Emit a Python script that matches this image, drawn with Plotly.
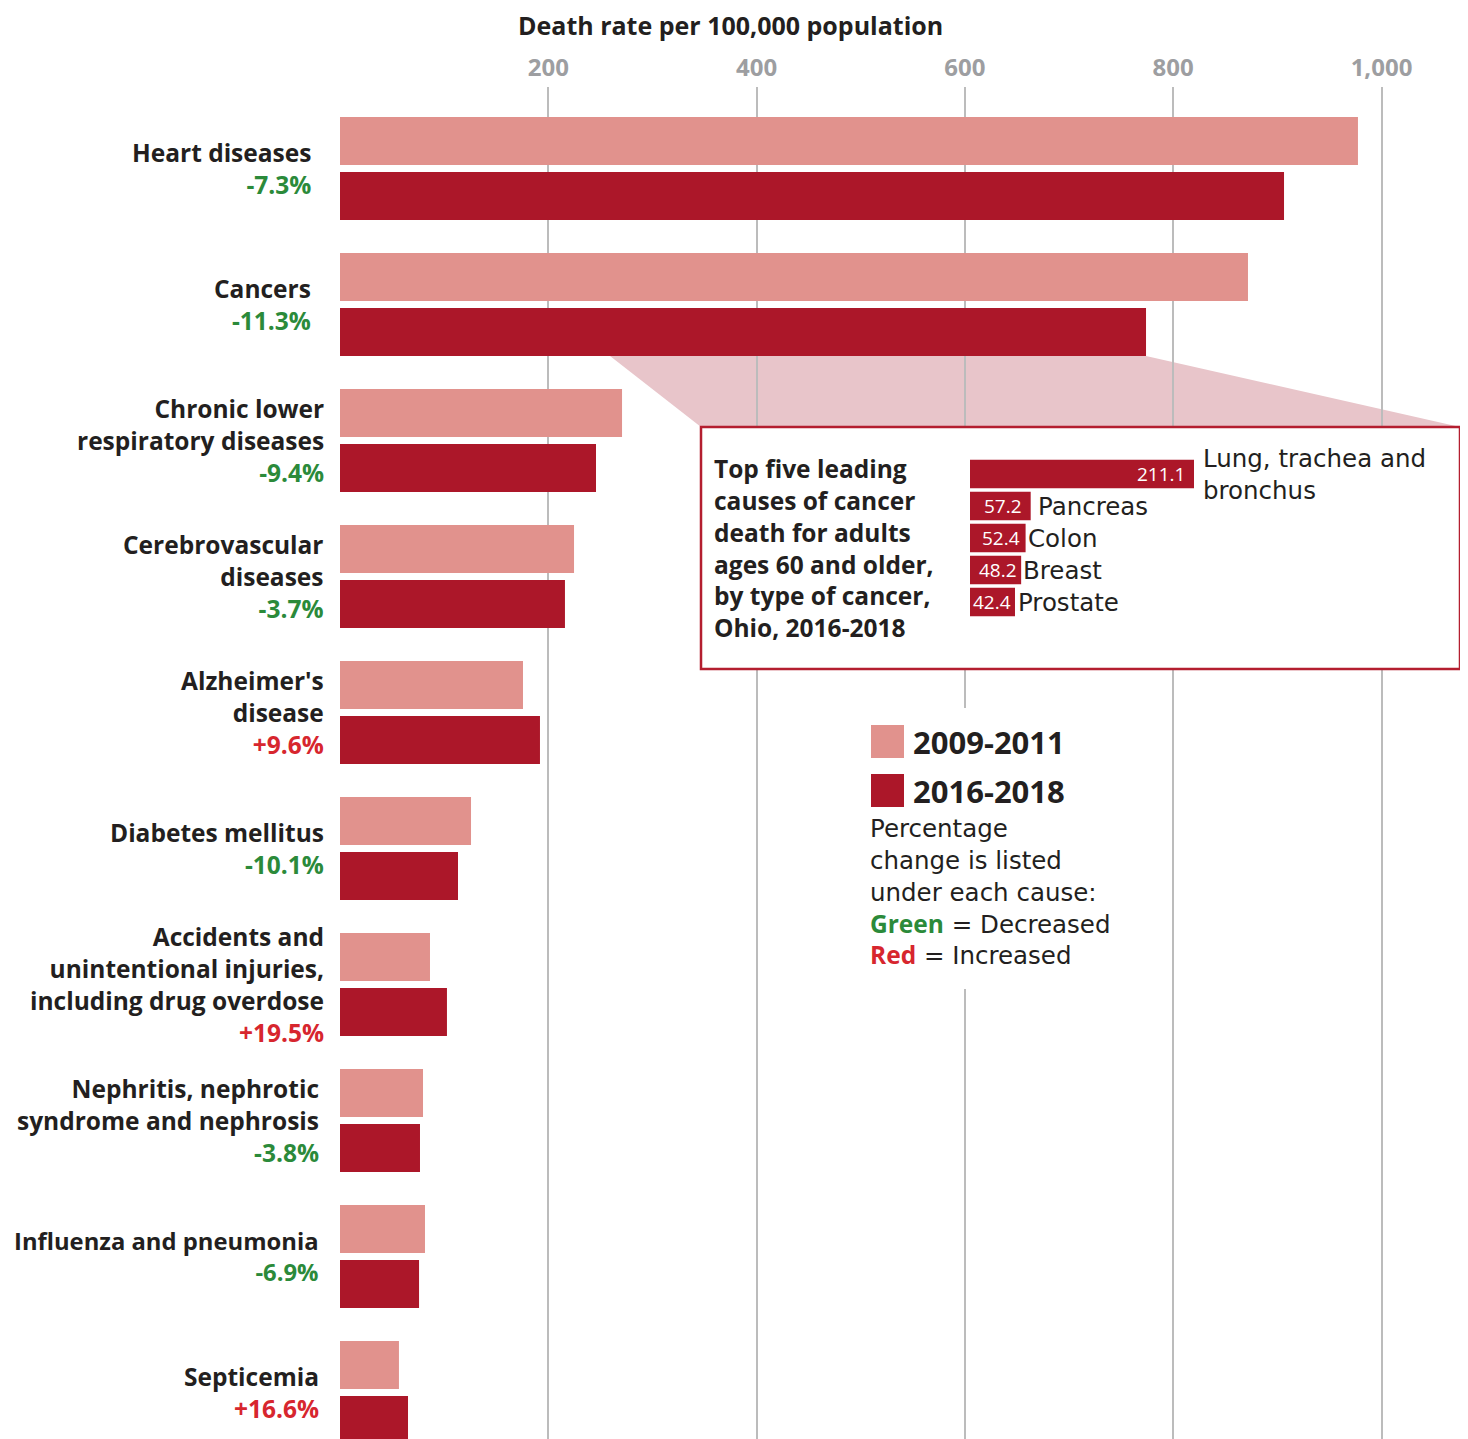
import plotly.graph_objects as go

# ---------------- data ----------------
causes = ["Heart diseases", "Cancers", "Chronic lower respiratory diseases",
          "Cerebrovascular diseases", "Alzheimer's disease", "Diabetes mellitus",
          "Accidents and unintentional injuries, including drug overdose",
          "Nephritis, nephrotic syndrome and nephrosis",
          "Influenza and pneumonia", "Septicemia"]
cause_labels = ["Heart diseases", "Cancers", "Chronic lower<br>respiratory diseases",
                "Cerebrovascular<br>diseases", "Alzheimer's<br>disease", "Diabetes mellitus",
                "Accidents and<br>unintentional injuries,<br>including drug overdose",
                "Nephritis, nephrotic<br>syndrome and nephrosis",
                "Influenza and pneumonia", "Septicemia"]
rate_2009_2011 = [977.4, 871.8, 270.8, 224.7, 175.7, 125.8, 86.4, 79.7, 81.6, 56.6]
rate_2016_2018 = [906.4, 773.9, 245.8, 216.0, 192.0, 113.3, 102.7, 76.8, 75.9, 65.3]
pct_change = ["-7.3%", "-11.3%", "-9.4%", "-3.7%", "+9.6%", "-10.1%",
              "+19.5%", "-3.8%", "-6.9%", "+16.6%"]

cancer_types = ["Lung, trachea and bronchus", "Pancreas", "Colon", "Breast", "Prostate"]
cancer_labels = ["Lung, trachea and<br>bronchus", "Pancreas", "Colon", "Breast", "Prostate"]
cancer_rates = [211.1, 57.2, 52.4, 48.2, 42.4]

tick_vals = [200, 400, 600, 800, 1000]
tick_text = ["200", "400", "600", "800", "1,000"]

# ---------------- style ----------------
LIGHT = "#e1928d"
DARK = "#ac1729"
GREEN = "#2b8a3a"
RED = "#d7262e"
TXT = "#231f20"
BOLD_FONT = "Open Sans"
REG_FONT = "DejaVu Sans"
W, H = 1468, 1439
OFF = 8                      # page offset of the figure inside the browser
PL, PT = 340, 87             # plot area left / top on screen
PR, PB = W + OFF, H + OFF    # plot area right / bottom on screen
SCALE = 1.0415               # screen px per unit on main axis
ROW = 136                    # screen px per category
ROW0 = 168.5                 # screen y of first category centre

label_shift = [-27, -27, -14, -14, -14, -14, -14, -19, -19, -19]
label_size = [24.5, 24.5, 24.5, 24.5, 24.5, 24.5, 24.5, 24.5, 23.8, 24.5]
name_shift = [7, 5, 0, 0, 1]
value_shift = [-7, -7, -4, -2, -2]


def px_x(sx):
    return (sx - PL) / (PR - PL)


def px_y(sy):
    return (PB - sy) / (PB - PT)


def val_x(sx):
    return (sx - PL) / SCALE


def val_y(sy):
    return (sy - ROW0) / ROW


fig = go.Figure()
fig.add_trace(go.Bar(y=causes, x=rate_2009_2011, orientation="h", name="2009-2011",
                     marker=dict(color=LIGHT, line=dict(width=0)), hoverinfo="x+y"))
fig.add_trace(go.Bar(y=causes, x=rate_2016_2018, orientation="h", name="2016-2018",
                     marker=dict(color=DARK, line=dict(width=0)), hoverinfo="x+y"))
fig.add_trace(go.Bar(y=cancer_types, x=cancer_rates, orientation="h", width=0.89,
                     xaxis="x2", yaxis="y2", marker=dict(color=DARK, line=dict(width=0)),
                     hoverinfo="x+y"))

annotations = []
for i, (c, lab, p) in enumerate(zip(causes, cause_labels, pct_change)):
    col = RED if p.startswith("+") else GREEN
    annotations.append(dict(
        xref="paper", yref="y", x=0, y=c, xanchor="right", yanchor="middle",
        xshift=label_shift[i], align="right", showarrow=False,
        text=f"{lab}<br><span style='color:{col}'>{p}</span>",
        font=dict(family=BOLD_FONT, size=label_size[i], color=TXT, weight="bold")))

for i, (c, lab, v) in enumerate(zip(cancer_types, cancer_labels, cancer_rates)):
    annotations.append(dict(
        xref="x2", yref="y2", x=v, y=c, xanchor="left", yanchor="middle",
        xshift=name_shift[i], align="left", showarrow=False, text=lab,
        font=dict(family=REG_FONT, size=24.5, color=TXT)))
    annotations.append(dict(
        xref="x2", yref="y2", x=v, y=c, xanchor="right", yanchor="middle",
        xshift=value_shift[i], showarrow=False, text=f"{v:.1f}",
        font=dict(family=BOLD_FONT, size=19, color="white")))

annotations.append(dict(
    xref="paper", yref="paper", x=px_x(730), y=px_y(25), xanchor="center",
    yanchor="middle", showarrow=False, text="Death rate per 100,000 population",
    font=dict(family=BOLD_FONT, size=25, color=TXT, weight="bold")))

annotations.append(dict(
    xref="paper", yref="paper", x=px_x(712), y=px_y(548), xanchor="left",
    yanchor="middle", align="left", showarrow=False,
    text="Top five leading<br>causes of cancer<br>death for adults<br>ages 60 and older,<br>"
         "by type of cancer,<br>Ohio, 2016-2018",
    font=dict(family=BOLD_FONT, size=24.5, color=TXT, weight="bold")))

annotations.append(dict(
    xref="paper", yref="paper", x=px_x(911), y=px_y(742), xanchor="left",
    yanchor="middle", showarrow=False, text="2009-2011",
    font=dict(family=BOLD_FONT, size=31, color=TXT, weight="bold")))
annotations.append(dict(
    xref="paper", yref="paper", x=px_x(911), y=px_y(791), xanchor="left",
    yanchor="middle", showarrow=False, text="2016-2018",
    font=dict(family=BOLD_FONT, size=31, color=TXT, weight="bold")))
annotations.append(dict(
    xref="paper", yref="paper", x=px_x(868), y=px_y(892), xanchor="left",
    yanchor="middle", align="left", showarrow=False,
    text="Percentage<br>change is listed<br>under each cause:<br>"
         f"<span style='color:{GREEN};font-family:{BOLD_FONT};font-weight:bold'>Green</span> = Decreased<br>"
         f"<span style='color:{RED};font-family:{BOLD_FONT};font-weight:bold'>Red</span> = Increased",
    font=dict(family=REG_FONT, size=24.5, color=TXT)))

# geometry of the Cancers dark bar bottom (category index 1)
slot = 55 / ROW
cancer_bottom = 1 + slot / 2 + (48 / ROW) / 2
box_x0, box_x1 = val_x(701), val_x(1460)
box_y0, box_y1 = val_y(427), val_y(669)

shapes = [
    dict(type="path", xref="x", yref="y", layer="below",
         path=(f"M {val_x(610)},{cancer_bottom} L {rate_2016_2018[1]},{cancer_bottom} "
               f"L {box_x1},{box_y0} L {box_x0},{box_y0} Z"),
         fillcolor="#e8c5ca", line=dict(width=0)),
    dict(type="rect", xref="x", yref="y", layer="between",
         x0=box_x0, x1=box_x1, y0=box_y0, y1=box_y1,
         fillcolor="white", line=dict(color="#b41e2f", width=2.5)),
    dict(type="rect", xref="x", yref="y", layer="between",
         x0=val_x(860), x1=val_x(1140), y0=val_y(708), y1=val_y(989),
         fillcolor="white", line=dict(width=0)),
    dict(type="rect", xref="paper", yref="paper", layer="above",
         x0=px_x(871), x1=px_x(904), y0=px_y(758), y1=px_y(725),
         fillcolor=LIGHT, line=dict(width=0)),
    dict(type="rect", xref="paper", yref="paper", layer="above",
         x0=px_x(871), x1=px_x(904), y0=px_y(807), y1=px_y(774),
         fillcolor=DARK, line=dict(width=0)),
]

fig.update_layout(
    width=W, height=H,
    margin=dict(l=PL - OFF, r=0, t=PT - OFF, b=0, pad=0),
    paper_bgcolor="white", plot_bgcolor="rgba(0,0,0,0)",
    showlegend=False,
    barmode="group", bargap=0.191, bargroupgap=0.127,
    font=dict(family=BOLD_FONT, color=TXT),
    xaxis=dict(range=[0, val_x(PR)], side="top", tickvals=tick_vals,
               ticktext=tick_text, showgrid=True, gridcolor="#bcbcbc", gridwidth=1.5,
               zeroline=False, showline=False, ticks="", ticklabelstandoff=5,
               tickfont=dict(family=BOLD_FONT, size=24, color="#9d9ea1", weight="bold"),
               fixedrange=True),
    yaxis=dict(categoryorder="array", categoryarray=causes,
               range=[val_y(PB), val_y(PT)],
               showticklabels=False, showgrid=False, zeroline=False, fixedrange=True),
    xaxis2=dict(domain=[px_x(970), px_x(1456)], range=[0, (1456 - 970) / 1.0611],
                anchor="y2", visible=False, fixedrange=True),
    yaxis2=dict(domain=[px_y(618), px_y(458)], anchor="x2", categoryorder="array",
                categoryarray=cancer_types, range=[4.5, -0.5], visible=False,
                fixedrange=True),
    annotations=annotations,
    shapes=shapes,
)

fig.write_html("out.html")
